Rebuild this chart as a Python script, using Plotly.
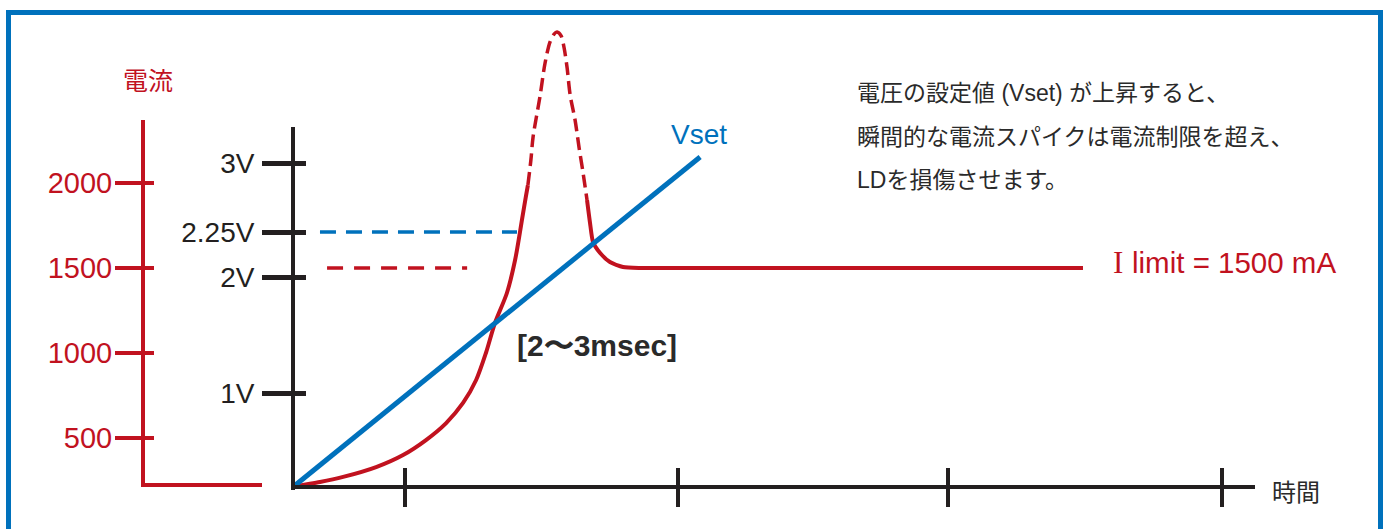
import plotly.graph_objects as go

W, H = 1384, 529

# ---------------- data ----------------
# current curve (time in tick units, current in mA on the red scale)
time_rise = [0.000, 0.037, 0.099, 0.184, 0.305, 0.404, 0.488, 0.562, 0.624,
             0.672, 0.708, 0.741, 0.785, 0.815, 0.833, 0.840, 0.855, 0.862]
current_rise = [212, 224, 241, 271, 329, 400, 488, 588, 706,
                841, 1000, 1176, 1353, 1547, 1712, 1782, 1924, 1988]
time_peak = [0.862, 0.873, 0.881, 0.906, 0.925, 0.943, 0.958, 0.969, 0.984,
             0.995, 1.006, 1.017, 1.035, 1.050, 1.064, 1.079]
current_peak = [1988, 2135, 2271, 2506, 2706, 2829, 2876, 2888, 2865,
                2794, 2676, 2518, 2371, 2206, 2065, 1900]
time_fall = [1.079, 1.090, 1.101, 1.127, 1.163, 1.211, 1.273, 1.400, 2.899]
current_fall = [1900, 1765, 1653, 1588, 1535, 1506, 1500, 1500, 1500]

# voltage set point ramp (volts)
vset_time = [0.0, 1.494]
vset_volts = [0.0, 3.056]

# reference dashed levels
vref_time = [0.099, 0.822]
vref_volts = [2.361, 2.361]
ilim_time = [0.125, 0.639]
ilim_current = [1500, 1500]

# axis ticks
current_ticks = [500, 1000, 1500, 2000]
current_tick_text = ["500", "1000", "1500", "2000"]
volt_ticks = [0.870, 1.944, 2.361, 3.000]
volt_tick_text = ["1V", "2V", "2.25V", "3V"]
time_ticks = [0.411, 1.413, 2.404, 3.409]

# ---------------- styling ----------------
RED = "#C1121F"
BLUE = "#0071BC"
BLACK = "#231F20"
TEXT = "#2A2A2A"
LATIN = "Liberation Sans, Arial, Helvetica, sans-serif"
CJK = "Liberation Sans, Noto Sans CJK JP, sans-serif"

# pixel layout of the diagram
T_SCALE, T_ORIGIN = 272.5, 293      # px per time unit, x px of t=0
I_SCALE, I_REF, I_REF_PX = 0.17, 1500, 268   # px per mA
V_SCALE, V_ZERO_PX = 108, 487        # px per volt


def fx(px):
    return px / W


def fy(py):
    return 1 - py / H


def t_at(px):
    return (px - T_ORIGIN) / T_SCALE


def i_at(py):
    return I_REF + (I_REF_PX - py) / I_SCALE


def v_at(py):
    return (V_ZERO_PX - py) / V_SCALE


fig = go.Figure()

# dashed reference lines
fig.add_trace(go.Scatter(x=vref_time, y=vref_volts, xaxis="x", yaxis="y2", mode="lines",
                         line=dict(color=BLUE, width=3.5, dash="16px,10px"), hoverinfo="skip"))
fig.add_trace(go.Scatter(x=ilim_time, y=ilim_current, xaxis="x", yaxis="y", mode="lines",
                         line=dict(color=RED, width=3.5, dash="16px,11px"), hoverinfo="skip"))

# current curve
fig.add_trace(go.Scatter(x=time_rise, y=current_rise, xaxis="x", yaxis="y", mode="lines",
                         line=dict(color=RED, width=4, shape="spline", smoothing=0.8), hoverinfo="skip"))
fig.add_trace(go.Scatter(x=time_peak, y=current_peak, xaxis="x", yaxis="y", mode="lines",
                         line=dict(color=RED, width=3.5, shape="spline", smoothing=0.8, dash="13px,6px"),
                         hoverinfo="skip"))
fig.add_trace(go.Scatter(x=time_fall, y=current_fall, xaxis="x", yaxis="y", mode="lines",
                         line=dict(color=RED, width=4, shape="spline", smoothing=0.6), hoverinfo="skip"))

# Vset ramp
fig.add_trace(go.Scatter(x=vset_time, y=vset_volts, xaxis="x", yaxis="y2", mode="lines",
                         line=dict(color=BLUE, width=5), hoverinfo="skip"))

# invisible anchor traces so that every drawn axis gets a subplot
for xa, ya in [("x2", "y"), ("x3", "y"), ("x4", "y"), ("x", "y4"), ("x", "y5"), ("x", "y6"), ("x", "y7")]:
    fig.add_trace(go.Scatter(x=[0.5], y=[1], xaxis=xa, yaxis=ya, mode="markers",
                             marker=dict(opacity=0, size=1), hoverinfo="skip"))

hidden = dict(visible=False, showgrid=False, zeroline=False, fixedrange=True)

fig.update_layout(
    width=W, height=H,
    margin=dict(l=0, r=0, t=0, b=0, pad=0),
    paper_bgcolor="white", plot_bgcolor="rgba(0,0,0,0)",
    showlegend=False, hovermode=False,
    xaxis=dict(domain=[0, 1], range=[t_at(0), t_at(W)], **hidden),
    yaxis=dict(domain=[0, 1], range=[i_at(H), i_at(0)], **hidden),
    yaxis2=dict(overlaying="y", range=[v_at(H), v_at(0)], **hidden),
    # time axis (ticks crossing the line: outside + overlaid inside)
    xaxis2=dict(domain=[fx(293), fx(1255)], range=[0, t_at(1255)], anchor="free", position=fy(487),
                showline=True, linecolor=BLACK, linewidth=4, showgrid=False, zeroline=False,
                ticks="outside", ticklen=18, tickwidth=4, tickcolor=BLACK,
                tickvals=time_ticks, showticklabels=False),
    xaxis3=dict(overlaying="x2", range=[0, t_at(1255)], anchor="free", position=fy(487),
                showline=False, showgrid=False, zeroline=False,
                ticks="inside", ticklen=19, tickwidth=4, tickcolor=BLACK,
                tickvals=time_ticks, showticklabels=False),
    # red base line of the current axis
    xaxis4=dict(domain=[fx(141), fx(262)], range=[0, 1], anchor="free", position=fy(485),
                showline=True, linecolor=RED, linewidth=4, showgrid=False, zeroline=False,
                ticks="", showticklabels=False),
    # current axis
    yaxis4=dict(domain=[fy(485), fy(120)], range=[i_at(485), i_at(120)], anchor="free", position=fx(143),
                showline=True, linecolor=RED, linewidth=4, showgrid=False, zeroline=False,
                ticks="outside", ticklen=26, tickwidth=4, tickcolor=RED,
                tickvals=current_ticks, ticktext=current_tick_text,
                tickfont=dict(family=LATIN, size=29, color=RED), ticklabelstandoff=-3),
    yaxis5=dict(overlaying="y4", range=[i_at(485), i_at(120)], anchor="free", position=fx(143),
                showline=False, showgrid=False, zeroline=False,
                ticks="inside", ticklen=10, tickwidth=4, tickcolor=RED,
                tickvals=current_ticks, showticklabels=False),
    # voltage axis
    yaxis6=dict(domain=[fy(490), fy(127)], range=[v_at(490), v_at(127)], anchor="free", position=fx(293),
                showline=True, linecolor=BLACK, linewidth=4, showgrid=False, zeroline=False,
                ticks="outside", ticklen=29, tickwidth=5, tickcolor=BLACK,
                tickvals=volt_ticks, ticktext=volt_tick_text,
                tickfont=dict(family=LATIN, size=28, color=BLACK), ticklabelstandoff=2),
    yaxis7=dict(overlaying="y6", range=[v_at(490), v_at(127)], anchor="free", position=fx(293),
                showline=False, showgrid=False, zeroline=False,
                ticks="inside", ticklen=12, tickwidth=5, tickcolor=BLACK,
                tickvals=volt_ticks, showticklabels=False),
)

# frame
fig.add_shape(type="rect", xref="paper", yref="paper",
              x0=fx(8.5), x1=fx(1380.5), y0=-0.1, y1=fy(12.5),
              line=dict(color=BLUE, width=5), fillcolor="rgba(0,0,0,0)", layer="below")


def note(text, x, y, size, color, family, xanchor="center", bold=False):
    fig.add_annotation(text=f"<b>{text}</b>" if bold else text, xref="paper", yref="paper",
                       x=fx(x), y=fy(y), xanchor=xanchor, yanchor="middle", showarrow=False,
                       font=dict(size=size, color=color, family=family))


note("電流", 148, 79, 25, RED, "Noto Sans CJK JP")
note("Vset", 699, 134, 28, BLUE, LATIN)
note("[2〜3msec]", 597, 345, 30, TEXT, LATIN, bold=True)
note("電圧の設定値 (Vset) が上昇すると、", 855, 93, 23, TEXT, CJK, xanchor="left")
note("瞬間的な電流スパイクは電流制限を超え、", 855, 137, 23, TEXT, CJK, xanchor="left")
note("LDを損傷させます。", 855, 180, 23, TEXT, CJK, xanchor="left")
note("I", 1111, 262, 31, RED, "Liberation Serif, Times New Roman, serif", xanchor="left")
note("limit = 1500 mA", 1130, 262, 29.5, RED, LATIN, xanchor="left")
note("時間", 1296, 490, 24, TEXT, "Noto Sans CJK JP")

fig.write_html("out.html", config={"displayModeBar": False, "staticPlot": True},
               post_script="document.body.style.margin='0px';")
